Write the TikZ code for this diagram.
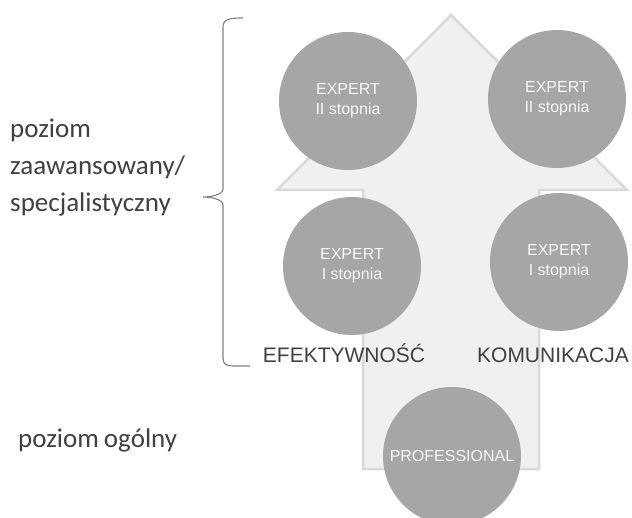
\documentclass[tikz,border=0pt]{standalone}
\usepackage{fontspec}
\setmainfont{Liberation Sans}
\newfontfamily\calfont{Carlito}
\definecolor{arrowfill}{HTML}{F0F0F0}
\definecolor{arrowline}{HTML}{D9D9D9}
\definecolor{circfill}{HTML}{A6A6A6}
\definecolor{circtext}{HTML}{F7F7F7}
\definecolor{labtext}{HTML}{404040}
\definecolor{bracecol}{HTML}{808080}
\tikzset{
  lvl/.style={circle, fill=circfill, minimum size=138pt, inner sep=0pt, text=circtext,
    font=\fontsize{16}{20}\selectfont, align=center},
  dimlabel/.style={text=labtext, font=\fontsize{21}{24}\selectfont, anchor=base},
  sidelabel/.style={text=labtext, font=\calfont\fontsize{27}{37}\selectfont, anchor=base west, align=left, inner sep=0pt},
}
\begin{document}
\begin{tikzpicture}[x=1pt,y=-1pt]
\useasboundingbox (0,0) rectangle (632,518);
\begin{scope}
\clip (0,0) rectangle (632,518);
% big arrow
\draw[fill=arrowfill, draw=arrowline, line width=2.5pt, line join=miter]
  (451,15) -- (627,190) -- (539,190) -- (539,469) -- (363,469) -- (363,190) -- (277,190) -- cycle;
% circles
\node[lvl] (e2l) at (348,101) {EXPERT\\II stopnia};
\node[lvl] (e2r) at (557,99) {EXPERT\\II stopnia};
\node[lvl] (e1l) at (352,266) {EXPERT\\I stopnia};
\node[lvl] (e1r) at (559,262) {EXPERT\\I stopnia};
\node[lvl] (pro) at (452,456) {PROFESSIONAL};
\end{scope}
% dimension labels
\node[dimlabel] (ef) at (344,363) {EFEKTYWNOŚĆ};
\node[dimlabel] (ko) at (553,363) {KOMUNIKACJA};
% brace
\draw[bracecol, line width=1.1pt]
  (243,18) .. controls (230,18) and (223,19) .. (223,27) -- (223,189)
  .. controls (223,195) and (210,197) .. (203,197)
  .. controls (210,197) and (223,199) .. (223,205) -- (223,358)
  .. controls (223,364) and (226,366) .. (233,366) -- (250,366);
% side labels
\node[sidelabel] (adv) at (10,212) {poziom\\zaawansowany/\\specjalistyczny};
\node[sidelabel] (gen) at (18,448) {poziom\hspace{-1pt} ogólny};
\end{tikzpicture}
\end{document}
